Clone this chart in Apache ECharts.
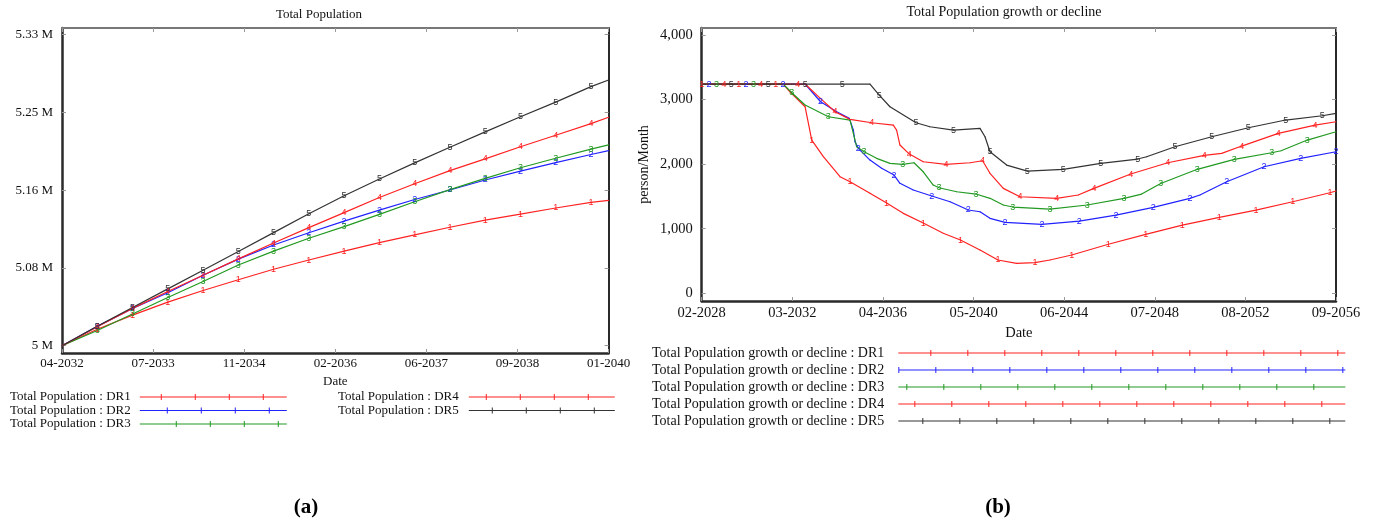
<!DOCTYPE html>
<html><head><meta charset="utf-8">
<script src="https://cdn.jsdelivr.net/npm/echarts@6/dist/echarts.min.js"></script>
<style>html,body{margin:0;padding:0;background:#fff}#c{width:1379px;height:527px}</style>
</head><body><div id="c"></div>
<script>
// ---------- (a) Total Population (millions) ----------
const popDateLabels = ['04-2032','07-2033','11-2034','02-2036','06-2037','09-2038','01-2040'];
const popSpanMonths = 93; // 04-2032 .. 01-2040
const popValueTicks = [5, 5.0825, 5.165, 5.2475, 5.33];
const popValueLabels = ['5 M','5.08 M','5.16 M','5.25 M','5.33 M'];
const popMonths = [0,6,12,18,24,30,36,42,48,54,60,66,72,78,84,90,93];
const popDR1 = [5.0,5.0174,5.0324,5.0462,5.0586,5.0700,5.0811,5.0909,5.1003,5.1093,5.1175,5.1257,5.1333,5.1397,5.1461,5.1521,5.1541];
const popDR2 = [5.0,5.0205,5.0394,5.0562,5.0748,5.0919,5.1069,5.1198,5.1322,5.1439,5.1551,5.1652,5.1758,5.1853,5.1942,5.2029,5.2069];
const popDR3 = [5.0,5.0161,5.0337,5.0511,5.0682,5.0856,5.1004,5.1140,5.1263,5.1393,5.1527,5.1656,5.1775,5.1888,5.1989,5.2086,5.2130];
const popDR4 = [5.0,5.0202,5.0396,5.0575,5.0748,5.0921,5.1089,5.1253,5.1412,5.1573,5.1719,5.1857,5.1983,5.2111,5.2233,5.2357,5.2424];
const popDR5 = [5.0,5.0207,5.0406,5.0603,5.0801,5.0999,5.1200,5.1400,5.1591,5.1769,5.1940,5.2106,5.2269,5.2429,5.2585,5.2749,5.2819];

// ---------- (b) Total Population growth or decline (person/Month) ----------
const growthDateLabels = ['02-2028','03-2032','04-2036','05-2040','06-2044','07-2048','08-2052','09-2056'];
const growthSpanMonths = 343; // 02-2028 .. 09-2056
const growthValueTicks = [0,1000,2000,3000,4000];
const growthValueLabels = ['0','1,000','2,000','3,000','4,000'];
const growthMonthsDR1 = [0,20,40,44.1,47.7,55.9,59.5,65.8,74.8,80.2,91.0,100.0,109.0,119.8,130.6,139.9,150.5,160.2,170.3,180.2,188.3,200.1,219.9,240.1,259.9,279.9,299.7,319.6,339.7,343];
const growthDR1 = [3240,3240,3240,3240,3121,2889,2373,2115,1805,1728,1548,1398,1238,1088,929,825,670,516,464,474,516,593,759,913,1057,1176,1289,1418,1557,1584];
const growthMonthsDR2 = [0,4,24,44,55.9,64.3,73.0,79.8,82.0,82.9,84.7,91.0,97.3,104.0,107.2,114.4,124.4,134.3,144.2,150.5,155.9,164.0,184.0,204.2,224.0,244.2,264.0,269.4,283.9,304.1,323.9,343];
const growthDR2 = [3240,3240,3240,3240,3240,2966,2811,2709,2528,2347,2245,2063,1935,1831,1703,1599,1506,1418,1290,1263,1161,1099,1068,1119,1212,1331,1471,1522,1728,1960,2090,2192];
const growthMonthsDR3 = [0,8,28,44.1,48.7,55.9,68.5,80.2,82.0,83.8,87.8,94.6,101.8,108.7,114.8,119.8,125.2,128.3,137.9,148.3,155.9,163.1,168.2,188.3,208.5,228.4,237.9,248.2,268.0,288.0,308.2,313.3,327.5,343];
const growthDR3 = [3240,3240,3240,3240,3105,2915,2734,2683,2477,2269,2192,2090,2012,1997,2022,1882,1676,1635,1573,1537,1471,1367,1336,1305,1367,1471,1537,1700,1920,2074,2176,2207,2373,2502];
const growthMonthsDR4 = [0,12,32,52,55.9,64.0,72.1,80.2,91.9,103.6,105.4,107.2,112.3,119.8,132.1,145.1,151.9,155.9,163.1,172.1,192.0,203.6,212.1,232.0,252.0,271.8,281.2,292.0,311.8,331.7,343];
const growthDR4 = [3240,3240,3240,3240,3240,3023,2811,2693,2641,2605,2528,2296,2156,2037,1997,2022,2053,1858,1625,1495,1471,1522,1625,1847,2022,2136,2167,2280,2477,2605,2656];
const growthMonthsDR5 = [0,16,36,56,76,91.0,96.0,101.8,115.9,123.4,136.1,150.5,153.2,155.9,164.9,176.1,195.5,215.8,235.8,240.6,255.9,275.8,295.6,315.8,335.6,343];
const growthDR5 = [3240,3240,3240,3240,3240,3240,3070,2889,2641,2579,2528,2554,2424,2192,1986,1893,1920,2012,2079,2115,2269,2424,2563,2683,2749,2786];

// ---------- styling ----------
const SERIF = 'Liberation Serif';
const RED = '#ff2222', BLUE = '#2222ff', GREEN = '#229a22', BLACK = '#333333';
const frameColor = '#2a2a2a';

function markedData(months, values, startMonth, spacing) {
  let last = -Infinity;
  return months.map((m, i) => {
    let show = false;
    if (m >= startMonth && m - last >= spacing) { show = true; last = m; }
    return { value: [m, values[i]], label: { show } };
  });
}
function lineSeries(name, axis, data, color, digit) {
  return {
    type: 'line', name, xAxisIndex: axis, yAxisIndex: axis, data,
    symbol: 'circle', symbolSize: 1, showSymbol: true,
    lineStyle: { color, width: 1.2 }, itemStyle: { color },
    label: { show: false, position: 'inside', formatter: digit, color, fontSize: 9, fontFamily: 'Liberation Sans' },
    emphasis: { disabled: true }, silent: true, animation: false
  };
}
function iconPath(w, h, first, step) {
  let p = 'path://M0,' + (h / 2 - 0.5) + 'h' + w + 'v1h-' + w + 'z';
  for (let x = first; x < w; x += step) p += ' M' + x + ',0h1v' + h + 'h-1z';
  return p;
}
const popTickMonths = popDateLabels.map((_, i) => i * popSpanMonths / (popDateLabels.length - 1));
const growthTickMonths = growthDateLabels.map((_, i) => i * growthSpanMonths / (growthDateLabels.length - 1));
const nearestLabel = (ticks, labels) => v => {
  let bi = 0; ticks.forEach((t, i) => { if (Math.abs(t - v) < Math.abs(ticks[bi] - v)) bi = i; });
  return labels[bi];
};

function xAxisPair(grid, ticks, labels, span, fontSize, nameGap, labelMargin) {
  const common = {
    type: 'value', gridIndex: grid, min: 0, max: span, splitLine: { show: false },
    axisTick: { show: true, inside: true, length: 4, customValues: ticks, lineStyle: { color: '#999' } }
  };
  return [
    Object.assign({}, common, {
      position: 'bottom', name: 'Date', nameLocation: 'middle', nameGap,
      nameTextStyle: { fontFamily: SERIF, fontSize, color: '#111' },
      axisLine: { show: true, onZero: false, lineStyle: { color: frameColor, width: 2.5 } },
      axisLabel: { customValues: ticks, formatter: nearestLabel(ticks, labels), fontFamily: SERIF, fontSize, color: '#111', margin: labelMargin }
    }),
    Object.assign({}, common, {
      position: 'top',
      axisLine: { show: true, onZero: false, lineStyle: { color: '#777', width: 2 } },
      axisLabel: { show: false }
    })
  ];
}
function yAxisPair(grid, ticks, labels, min, max, fontSize, extra) {
  const common = {
    type: 'value', gridIndex: grid, min, max, splitLine: { show: false },
    axisTick: { show: true, inside: true, length: 4, customValues: ticks, lineStyle: { color: '#999' } }
  };
  return [
    Object.assign({}, common, {
      position: 'left',
      axisLine: { show: true, onZero: false, lineStyle: { color: frameColor, width: 2.5 } },
      axisLabel: { customValues: ticks, formatter: nearestLabel(ticks, labels), fontFamily: SERIF, fontSize, color: '#111', margin: 9 }
    }, extra || {}),
    Object.assign({}, common, {
      position: 'right',
      axisLine: { show: true, onZero: false, lineStyle: { color: frameColor, width: 2 } },
      axisLabel: { show: false }
    })
  ];
}

const xAxes = [
  ...xAxisPair(0, popTickMonths, popDateLabels, popSpanMonths, 13, 18, 4),
  ...xAxisPair(1, growthTickMonths, growthDateLabels, growthSpanMonths, 14.5, 23, 5)
];
const yAxes = [
  ...yAxisPair(0, popValueTicks, popValueLabels, 4.99225, 5.3371, 13),
  ...yAxisPair(1, growthValueTicks, growthValueLabels, -119, 4108, 14.5, {
    name: 'person/Month', nameLocation: 'middle', nameGap: 50, nameRotate: 90,
    nameTextStyle: { fontFamily: SERIF, fontSize: 14, color: '#111' }
  })
];
const popNames = ['DR1','DR2','DR3','DR4','DR5'].map(d => 'Total Population : ' + d);
const growthNames = ['DR1','DR2','DR3','DR4','DR5'].map(d => 'Total Population growth or decline : ' + d);
const colors = [RED, BLUE, GREEN, RED, BLACK];
const popValues = [popDR1, popDR2, popDR3, popDR4, popDR5];
const growthMonths = [growthMonthsDR1, growthMonthsDR2, growthMonthsDR3, growthMonthsDR4, growthMonthsDR5];
const growthValues = [growthDR1, growthDR2, growthDR3, growthDR4, growthDR5];

const series = [];
popValues.forEach((vals, i) => {
  series.push(lineSeries(popNames[i], 0, markedData(popMonths, vals, 1, 5), colors[i], String(i + 1)));
});
growthValues.forEach((vals, i) => {
  series.push(lineSeries(growthNames[i], 2, markedData(growthMonths[i], vals, i * 4, 19), colors[i], String(i + 1)));
});

const legendText = (size, padRight) => ({ fontFamily: SERIF, fontSize: size, color: '#111', lineHeight: size, padding: [0, padRight, 0, 0] });
const option = {
  animation: false,
  backgroundColor: '#fff',
  grid: [
    { left: 62, top: 28, width: 546.6, height: 325 },
    { left: 701.7, top: 28, width: 634.3, height: 273 }
  ],
  xAxis: xAxes,
  yAxis: yAxes,
  series,
  legend: [
    {
      left: 10, top: 390.5, padding: 0, orient: 'vertical', align: 'right', itemWidth: 147, itemHeight: 6, itemGap: 0.5,
      selectedMode: false, textStyle: legendText(13, 4),
      data: [0, 1, 2].map(i => ({ name: popNames[i], icon: iconPath(147, 6, [21, 27, 36][i], 34) }))
    },
    {
      left: 338, top: 390.5, padding: 0, orient: 'vertical', align: 'right', itemWidth: 146, itemHeight: 6, itemGap: 0.5,
      selectedMode: false, textStyle: legendText(13, 5),
      data: [3, 4].map(i => ({ name: popNames[i], icon: iconPath(146, 6, [17, 23][i - 3], 34) }))
    },
    {
      left: 652, top: 346, padding: 0, orient: 'vertical', align: 'right', itemWidth: 447, itemHeight: 6, itemGap: 3,
      selectedMode: false, textStyle: legendText(14, 9),
      data: [0, 1, 2, 3, 4].map(i => ({ name: growthNames[i], icon: iconPath(447, 6, [32, 0, 8, 16, 24][i], 37) }))
    }
  ],
  graphic: [
    { type: 'text', x: 319, y: 15, style: { text: 'Total Population', font: '13px "Liberation Serif"', fill: '#111', textAlign: 'center', textVerticalAlign: 'middle' } },
    { type: 'text', x: 1004, y: 12, style: { text: 'Total Population growth or decline', font: '14px "Liberation Serif"', fill: '#111', textAlign: 'center', textVerticalAlign: 'middle' } },
    { type: 'text', x: 306, y: 508, style: { text: '(a)', font: 'bold 21px "Liberation Serif"', fill: '#000', textAlign: 'center', textVerticalAlign: 'middle' } },
    { type: 'text', x: 998, y: 508, style: { text: '(b)', font: 'bold 21px "Liberation Serif"', fill: '#000', textAlign: 'center', textVerticalAlign: 'middle' } }
  ]
};

const chart = echarts.init(document.getElementById('c'), null, { renderer: 'canvas' });
chart.setOption(option);
</script>
</body></html>
